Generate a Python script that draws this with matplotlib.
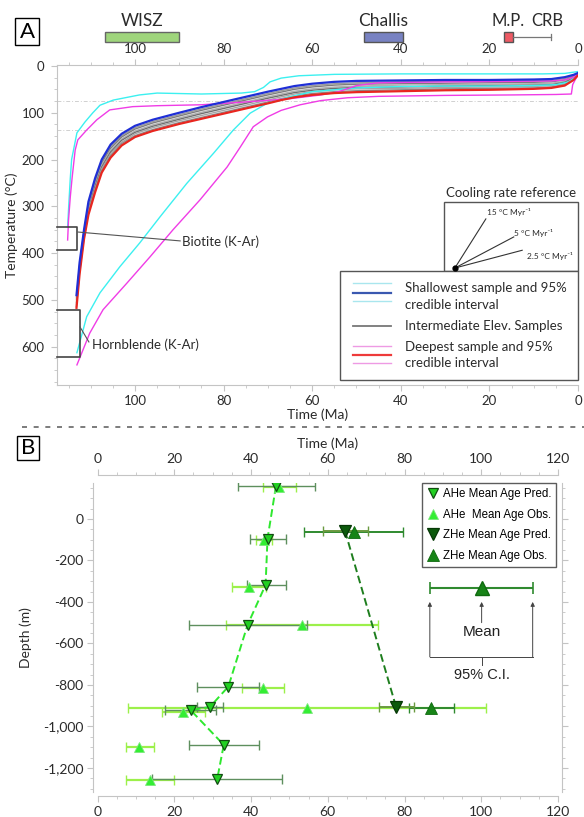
import matplotlib
matplotlib.use("Agg")
import matplotlib.pyplot as plt
from matplotlib.lines import Line2D
from matplotlib.patches import Rectangle
from matplotlib.ticker import MultipleLocator, FuncFormatter

plt.rcParams['font.family'] = ['Lato', 'DejaVu Sans']

# ---------------- panel A: modelled thermal histories ----------------
t_main = [113.2, 112.5, 111.5, 110.5, 109.0, 107.5, 105.5, 103.0, 100.0, 96.0,
          90.0, 85.0, 80.0, 75.0, 70.0, 67.0, 64.0, 60.0, 55.0, 50.0,
          40.0, 30.0, 20.0, 10.0, 6.0, 3.0, 1.0, 0.0]
shallow_T = [490, 420, 350, 290, 240, 200, 168, 145, 128, 115, 100, 88, 77, 66,
             55, 49, 43, 38, 34, 32, 31, 30, 30, 29, 28, 24, 19, 15]
mid1_T = [494, 424, 353, 294, 244, 204, 172, 149, 132, 119, 104, 92, 81, 70,
          59, 53, 47, 42, 38, 36, 34, 33, 33, 32, 31, 27, 21, 16]
mid2_T = [498, 428, 356, 298, 249, 208, 176, 152, 135, 122, 107, 95, 84, 73,
          62, 56, 50, 45, 41, 39, 38, 37, 36, 35, 34, 30, 23, 17]
mid3_T = [502, 431, 359, 302, 253, 212, 180, 156, 139, 126, 111, 99, 88, 77,
          66, 60, 54, 49, 45, 43, 41, 40, 39, 38, 37, 33, 24, 17]
mid4_T = [506, 434, 362, 306, 257, 216, 184, 159, 142, 129, 114, 102, 91, 80,
          69, 63, 57, 52, 48, 46, 45, 43, 42, 41, 40, 35, 26, 18]
mid5_T = [510, 437, 365, 310, 262, 220, 188, 163, 145, 132, 117, 106, 95, 84,
          73, 66, 60, 55, 51, 49, 48, 46, 45, 44, 42, 38, 27, 19]
mid6_T = [514, 441, 368, 314, 266, 224, 192, 166, 149, 136, 121, 110, 99, 88,
          77, 70, 64, 59, 55, 53, 51, 49, 48, 47, 45, 40, 29, 19]
deep_T = [517, 445, 370, 318, 270, 228, 196, 170, 152, 139, 124, 113, 102, 91,
          80, 73, 67, 62, 58, 56, 54, 52, 51, 49, 47, 42, 30, 20]

# 95% credible intervals
shallow_ci_cool_t = [115.2, 114.9, 114.6, 114.3, 113.1, 111.3, 109.5, 107.9, 104.9, 99.0,
                     95.0, 85.0, 76.0, 73.0, 71.0, 69.5, 67.0, 63.0, 55.0, 40.0,
                     20.0, 8.0, 3.0, 0.0]
shallow_ci_cool_T = [344, 290, 240, 200, 143, 120, 100, 84, 73, 62,
                     58, 60, 58, 55, 46, 34, 26, 21, 18, 17,
                     17, 17, 16, 12]
shallow_ci_hot_t = [113.1, 110.9, 107.9, 103.4, 98.9, 94.3, 88.3, 82.3, 77.8, 74.0,
                    70.2, 65.0, 60.0, 50.0, 40.0, 30.0, 20.0, 10.0, 5.0, 2.0, 0.0]
shallow_ci_hot_T = [613, 536, 485, 429, 378, 322, 251, 187, 137, 101,
                    80, 66, 55, 47, 44, 43, 43, 42, 40, 34, 18]
deep_ci_cool_t = [115.2, 115.0, 114.6, 114.2, 113.5, 112.9, 110.9, 108.6, 105.7, 100.5,
                  95.0, 85.0, 75.0, 65.0, 58.0, 54.0, 50.0, 45.0, 30.0, 15.0,
                  6.0, 3.0, 1.0, 0.0]
deep_ci_cool_T = [372, 330, 280, 240, 180, 158, 137, 115, 94, 87,
                  85, 83, 77, 70, 62, 55, 42, 36, 34, 33,
                  32, 30, 24, 17]
deep_ci_hot_t = [113.1, 110.2, 107.2, 101.8, 96.6, 91.4, 85.3, 79.2, 76.2, 73.3,
                 70.1, 67.0, 62.7, 58.0, 52.0, 45.0, 30.0, 15.0, 5.0, 1.5, 1.2, 0.0]
deep_ci_hot_T = [639, 571, 521, 464, 408, 350, 286, 216, 173, 130,
                 109, 95, 83, 74, 68, 65, 63, 62, 61, 60, 40, 18]

# magmatic / volcanic events (Ma)
wisz_span = (106.8, 90.0)
challis_span = (48.4, 39.4)
mp_span = (16.7, 14.7)
crb_end = 6.1

cooling_rates = [15, 5, 2.5]
cooling_labels = ['15 °C Myr⁻¹', '5 °C Myr⁻¹', '2.5 °C Myr⁻¹']

# ---------------- panel B: age-depth data ----------------
ahe_pred_age = [46.5, 44.3, 43.8, 39.1, 34.1, 29.3, 24.3, 32.9, 31.2]
ahe_pred_depth = [158, -96, -318, -511, -808, -906, -922, -1089, -1253]
ahe_pred_lo = [36.6, 39.7, 38.9, 23.9, 26.0, 25.9, 17.6, 23.9, 14.2]
ahe_pred_hi = [56.6, 49.0, 49.0, 54.5, 42.0, 32.6, 31.0, 42.0, 48.2]

ahe_obs_age = [47.3, 43.4, 39.5, 53.2, 43.2, 54.6, 22.4, 10.9, 13.7]
ahe_obs_depth = [152, -103, -330, -513, -813, -910, -930, -1098, -1258]
ahe_obs_lo = [43.1, 41.2, 35.1, 33.4, 37.7, 7.9, 16.9, 7.3, 7.3]
ahe_obs_hi = [51.7, 45.6, 44.0, 73.0, 48.6, 101.2, 27.9, 14.7, 19.9]

zhe_pred_age = [64.5, 77.8]
zhe_pred_depth = [-58, -906]
zhe_pred_lo = [58.7, 73.4]
zhe_pred_hi = [70.4, 82.4]

zhe_obs_age = [66.8, 86.9]
zhe_obs_depth = [-63, -910]
zhe_obs_lo = [53.8, 81.2]
zhe_obs_hi = [79.6, 92.9]

# example bar explaining the symbols
key_age, key_lo, key_hi, key_depth = 100.1, 86.6, 113.4, -333

W, H = 584, 817
fig = plt.figure(figsize=(W / 100, H / 100), dpi=100)


def fx(px):
    return px / W


def fy(py):
    return 1 - py / H


spine_col = '#c4c4c4'
text_col = '#2b2b2b'

# ======================= panel A =======================
axA = fig.add_axes([fx(57), fy(385), fx(578) - fx(57), fy(65) - fy(385)])
axA.set_xlim(117.6, 0)
axA.set_ylim(682, -2)
for s in ['top', 'bottom', 'left']:
    axA.spines[s].set_color(spine_col)
axA.spines['right'].set_visible(False)
axA.xaxis.set_major_locator(MultipleLocator(20))
axA.xaxis.set_minor_locator(MultipleLocator(5))
axA.yaxis.set_major_locator(MultipleLocator(100))
axA.yaxis.set_minor_locator(MultipleLocator(25))
axA.tick_params(axis='x', which='both', top=True, labeltop=True, bottom=True,
                labelbottom=True, color=spine_col)
axA.tick_params(which='major', length=4, labelsize=9.5, labelcolor=text_col, pad=3)
axA.tick_params(which='minor', length=2.5, color=spine_col)
axA.tick_params(axis='y', color=spine_col, pad=5)
axA.set_xlabel('Time (Ma)', fontsize=10, color=text_col, labelpad=1)
axA.set_ylabel('Temperature (°C)', fontsize=10, color=text_col)
axA.yaxis.set_label_coords(-0.075, 0.5)

for yy in (76, 137):
    axA.axhline(yy, color='#d0d0d0', lw=0.7, ls=(0, (4, 2, 1, 2)), zorder=0)

grays = ['#9a9a9a', '#7d7d7d', '#b0b0b0', '#6e6e6e', '#a5a5a5', '#8a8a8a']
for T, c in zip([mid1_T, mid2_T, mid3_T, mid4_T, mid5_T, mid6_T], grays):
    axA.plot(t_main, T, color=c, lw=1.0, zorder=2)
axA.plot(t_main, deep_T, color='#e8261f', lw=1.6, zorder=3)
axA.plot(t_main, shallow_T, color='#1f2fd6', lw=1.6, zorder=3)
axA.plot(shallow_ci_cool_t, shallow_ci_cool_T, color='#3cf0f0', lw=1.0, zorder=2)
axA.plot(shallow_ci_hot_t, shallow_ci_hot_T, color='#3cf0f0', lw=1.0, zorder=2)
axA.plot(deep_ci_cool_t, deep_ci_cool_T, color='#f03ce6', lw=1.0, zorder=2)
axA.plot(deep_ci_hot_t, deep_ci_hot_T, color='#f03ce6', lw=1.0, zorder=2)

# K-Ar closure brackets
axA.plot([117.6, 113.1, 113.1, 117.6], [344, 344, 393, 393], color='#444',
         lw=1.2, clip_on=False, zorder=4)
axA.plot([112.9, 89.8], [355, 374], color='#555', lw=0.8, zorder=4)
axA.text(89.3, 376, 'Biotite (K-Ar)', fontsize=9.5, color=text_col, va='center')
axA.plot([117.6, 112.4, 112.4, 117.6], [521, 521, 622, 622], color='#444',
         lw=1.2, clip_on=False, zorder=4)
axA.plot([112.4, 110.4], [558, 590], color='#555', lw=0.8, zorder=4)
axA.text(109.8, 596, 'Hornblende (K-Ar)', fontsize=9.5, color=text_col, va='center')

# event bars above the time axis
tr = axA.get_xaxis_transform()
axA.add_patch(Rectangle((wisz_span[1], 1.072), wisz_span[0] - wisz_span[1], 0.031,
                        transform=tr, fc='#9fd57c', ec='#666', lw=1, clip_on=False))
axA.text(sum(wisz_span) / 2, 1.137, 'WISZ', transform=tr, ha='center', va='center',
         fontsize=12.5, color=text_col)
axA.add_patch(Rectangle((challis_span[1], 1.072), challis_span[0] - challis_span[1], 0.031,
                        transform=tr, fc='#7882c2', ec='#555', lw=1, clip_on=False))
axA.text(sum(challis_span) / 2, 1.137, 'Challis', transform=tr, ha='center', va='center',
         fontsize=12.5, color=text_col)
axA.plot([mp_span[1], crb_end], [1.0875, 1.0875], transform=tr, color='#777', lw=0.9,
         clip_on=False)
axA.plot([crb_end, crb_end], [1.077, 1.098], transform=tr, color='#777', lw=0.9,
         clip_on=False)
axA.add_patch(Rectangle((mp_span[1], 1.072), mp_span[0] - mp_span[1], 0.031,
                        transform=tr, fc='#ee5a64', ec='#555', lw=1, clip_on=False))
axA.text(15.8, 1.137, 'M.P.', transform=tr, ha='center', va='center', fontsize=12,
         color=text_col)
axA.text(7.0, 1.137, 'CRB', transform=tr, ha='center', va='center', fontsize=12,
         color=text_col)

# cooling rate reference
axA.add_patch(Rectangle((0, 291), 30.3, 147, fc='white', ec='#555', lw=1, zorder=5,
                        clip_on=False))
axA.text(15.2, 271, 'Cooling rate reference', ha='center', va='center', fontsize=9.5,
         color=text_col)
o_t, o_T = 27.8, 432
run = [7.0, 13.3, 15.2]
lab_pos = [(15.6, 312), (10.0, 357), (6.4, 406)]
for rate, dt, lab, (lx, ly) in zip(cooling_rates, run, cooling_labels, lab_pos):
    axA.plot([o_t, o_t - dt], [o_T, o_T - rate * dt], color='#333', lw=0.8, zorder=6)
    axA.text(lx, ly, lab, fontsize=6, color=text_col, zorder=6, ha='center',
             va='center', family=['Lato', 'DejaVu Sans'])
axA.plot([o_t], [o_T], 'o', color='k', ms=3.5, zorder=7)

# legend box
axA.add_patch(Rectangle((0, 438), 53.8, 233, fc='white', ec='#555', lw=1, zorder=5,
                        clip_on=False))
lx0, lx1, tx = 50.7, 42.3, 39.1
leg_lines = [(464, '#a9e6ee', 1.0), (485, '#3a58b0', 1.6), (502, '#a9e6ee', 1.0),
             (556, '#777777', 1.3),
             (598, '#ee9ae4', 1.0), (618, '#ee3a3a', 1.6), (635, '#ee9ae4', 1.0)]
for yy, c, lw in leg_lines:
    axA.plot([lx0, lx1], [yy, yy], color=c, lw=lw, zorder=6, clip_on=False)
for yy, s in [(474, 'Shallowest sample and 95%'), (511, 'credible interval'),
              (556, 'Intermediate Elev. Samples'),
              (600, 'Deepest sample and 95%'), (635, 'credible interval')]:
    axA.text(tx, yy, s, fontsize=9.5, color=text_col, va='center', zorder=6)

# ======================= panel B =======================
axB = fig.add_axes([fx(97.5), fy(792), fx(558) - fx(97.5), fy(483) - fy(792)])
axB.set_xlim(0, 120)
axB.set_ylim(-1316, 173)
for s, off in [('left', 3.2), ('top', 5.8), ('bottom', 2.9), ('right', 2.9)]:
    axB.spines[s].set_position(('outward', off))
    axB.spines[s].set_color(spine_col)
axB.xaxis.set_major_locator(MultipleLocator(20))
axB.xaxis.set_minor_locator(MultipleLocator(5))
axB.yaxis.set_major_locator(MultipleLocator(200))
axB.yaxis.set_minor_locator(MultipleLocator(50))
axB.yaxis.set_major_formatter(FuncFormatter(lambda v, p: f'{int(round(v)):,}'))
axB.tick_params(axis='x', which='both', top=True, labeltop=True, bottom=True,
                labelbottom=True)
axB.tick_params(axis='y', which='both', left=True, right=True, labelright=False)
axB.tick_params(which='both', color=spine_col, labelsize=10, labelcolor=text_col)
axB.tick_params(which='major', length=4, pad=3)
axB.tick_params(which='minor', length=2.5)
axB.xaxis.set_label_position('top')
axB.set_xlabel('Time (Ma)', fontsize=10, color=text_col, labelpad=4)
axB.set_ylabel('Depth (m)', fontsize=10, color=text_col)
axB.yaxis.set_label_coords(-0.142, 0.5)


def err_bars(age, depth, lo, hi, color, lw):
    xerr = [[a - l for a, l in zip(age, lo)], [h - a for a, h in zip(age, hi)]]
    axB.errorbar(age, depth, xerr=xerr, fmt='none', ecolor=color, elinewidth=lw,
                 capsize=3.6, capthick=1.0, zorder=2)


err_bars(ahe_obs_age, ahe_obs_depth, ahe_obs_lo, ahe_obs_hi, '#9cf04a', 1.6)
err_bars(ahe_pred_age, ahe_pred_depth, ahe_pred_lo, ahe_pred_hi, '#5e8f5e', 1.0)
err_bars(zhe_obs_age, zhe_obs_depth, zhe_obs_lo, zhe_obs_hi, '#2f8a2f', 1.4)
err_bars(zhe_pred_age, zhe_pred_depth, zhe_pred_lo, zhe_pred_hi, '#6a9a40', 1.4)

axB.plot(ahe_pred_age, ahe_pred_depth, color='#2ee82e', lw=1.4, ls=(0, (4, 2)), zorder=3)
axB.plot(zhe_pred_age, zhe_pred_depth, color='#1e7e1e', lw=1.4, ls=(0, (4, 2)), zorder=3)

ahe_pred_style = dict(marker='v', ms=7.2, mfc='#22d022', mec='#124d12', mew=0.9, ls='none')
ahe_obs_style = dict(marker='^', ms=6.8, mfc='#33ee33', mec='#7be87b', mew=0.6, ls='none')
zhe_pred_style = dict(marker='v', ms=8.5, mfc='#0c5a0c', mec='#063806', mew=0.9, ls='none')
zhe_obs_style = dict(marker='^', ms=8.5, mfc='#178417', mec='#0f6a0f', mew=0.6, ls='none')

axB.plot(ahe_obs_age, ahe_obs_depth, zorder=4, **ahe_obs_style)
axB.plot(ahe_pred_age, ahe_pred_depth, zorder=5, **ahe_pred_style)
axB.plot(zhe_obs_age, zhe_obs_depth, zorder=4, **zhe_obs_style)
axB.plot(zhe_pred_age, zhe_pred_depth, zorder=5, **zhe_pred_style)

handles = [Line2D([], [], **ahe_pred_style), Line2D([], [], **ahe_obs_style),
           Line2D([], [], **zhe_pred_style), Line2D([], [], **zhe_obs_style)]
labels = ['AHe Mean Age Pred.', 'AHe  Mean Age Obs.', 'ZHe Mean Age Pred.',
          'ZHe Mean Age Obs.']
leg = axB.legend(handles, labels, loc='upper left', bbox_to_anchor=(fx(422), fy(483)),
                 bbox_transform=fig.transFigure, frameon=True, fancybox=False,
                 edgecolor='#333', prop={'family': 'Liberation Sans', 'size': 8.3},
                 borderpad=0.45, labelspacing=0.75, handlelength=1.0,
                 handletextpad=0.35, borderaxespad=0)
leg.get_frame().set_linewidth(1.0)

# symbol key: mean and 95% C.I.
axB.errorbar([key_age], [key_depth], xerr=[[key_age - key_lo], [key_hi - key_age]],
             fmt='^', ms=10, mfc='#178417', mec='#0f6a0f', ecolor='#2f8a2f',
             elinewidth=1.5, capsize=4, capthick=1.2, zorder=4)
arrow = dict(arrowstyle='-|>', color='#444', lw=0.7, mutation_scale=6,
             shrinkA=0, shrinkB=0)
axB.annotate('', xy=(key_age, -400), xytext=(key_age, -500), arrowprops=arrow)
for xx in (key_lo, key_hi):
    axB.annotate('', xy=(xx, -400), xytext=(xx, -665), arrowprops=arrow)
axB.plot([key_lo, key_hi], [-665, -665], color='#444', lw=0.7)
axB.plot([key_age, key_age], [-665, -705], color='#444', lw=0.7)
axB.text(key_age, -545, 'Mean', ha='center', va='center', fontsize=11,
         family='Liberation Sans', color='#222')
axB.text(key_age, -752, '95% C.I.', ha='center', va='center', fontsize=10.5,
         family='Liberation Sans', color='#222')

# panel letters and separator
for (x0, y0, x1, y1), letter in [((15, 18, 39, 45), 'A'), ((17, 436, 39, 460), 'B')]:
    fig.add_artist(Rectangle((fx(x0), fy(y1)), fx(x1) - fx(x0), fy(y0) - fy(y1),
                             transform=fig.transFigure, fill=False, ec='k', lw=1))
    fig.text(fx((x0 + x1) / 2), fy((y0 + y1) / 2), letter, ha='center', va='center',
             fontsize=16, color='k')
fig.add_artist(Line2D([fx(22), fx(584)], [fy(427), fy(427)], transform=fig.transFigure,
                      color='#666', lw=1.2, ls=(0, (3, 4))))

fig.savefig('out.png', dpi=100)
